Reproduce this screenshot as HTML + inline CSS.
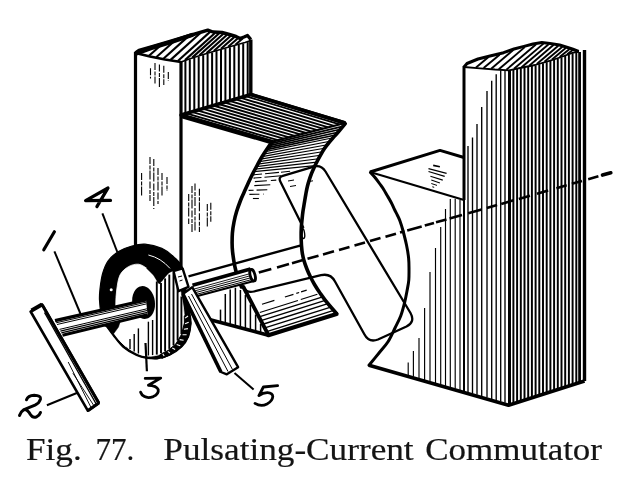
<!DOCTYPE html>
<html><head><meta charset="utf-8"><title>Fig. 77</title>
<style>
html,body{margin:0;padding:0;background:#fff;}
body{width:629px;height:479px;overflow:hidden;position:relative;font-family:"Liberation Serif",serif;}
svg{position:absolute;left:0;top:0;will-change:transform;}
.w{position:absolute;top:431.5px;font-size:31px;line-height:36px;color:#141414;white-space:pre;transform-origin:0 0;display:inline-block;-webkit-text-stroke:0.25px #141414;}
</style></head><body>
<svg width="629" height="479" viewBox="0 0 629 479" stroke="#000" fill="none">
<line x1="135.5" y1="52.0" x2="135.5" y2="247.0" stroke-width="3.2" />
<line x1="181.0" y1="62.0" x2="181.0" y2="268.0" stroke-width="3.2" />
<path d="M135.5,53.0 L139.0,50.5 L153.0,46.5 L170.0,41.5 L190.0,35.5 L207.8,30.2 L213.0,32.0 L222.0,32.5 L229.4,34.5 L236.0,36.5 L240.0,38.5 L244.0,37.0 L247.5,35.5 L250.8,39.5" stroke-width="3.4" fill="none" stroke-linejoin="round"/>
<path d="M136.2,53.3 L150.7,48.2 L171.3,42.0 L192.0,35.0" stroke-width="4.4" fill="none" stroke-linejoin="round" stroke-linecap="round"/>
<path d="M135.5,53.0 L150.0,56.5 L165.0,59.5 L181.0,62.0" stroke-width="2.6" fill="none" stroke-linejoin="round"/>
<path d="M181.0,62.0 L190.0,58.8 L200.0,55.6 L210.0,52.6 L222.0,49.0 L235.0,45.3 L245.0,42.5 L250.8,40.5" stroke-width="1.6" fill="none" stroke-linejoin="round"/>
<line x1="149.0" y1="55.8" x2="161.5" y2="44.8" stroke-width="2.1" />
<line x1="156.2" y1="57.2" x2="174.2" y2="41.2" stroke-width="2.1" />
<line x1="163.4" y1="58.7" x2="187.4" y2="37.1" stroke-width="2.1" />
<line x1="170.6" y1="59.9" x2="200.1" y2="33.2" stroke-width="2.1" />
<line x1="177.8" y1="61.0" x2="210.3" y2="31.6" stroke-width="2.1" />
<line x1="185.0" y1="60.1" x2="215.0" y2="33.0" stroke-width="2.1" />
<line x1="192.2" y1="57.6" x2="219.2" y2="33.3" stroke-width="2.1" />
<line x1="199.4" y1="55.3" x2="223.4" y2="33.7" stroke-width="2.1" />
<line x1="206.6" y1="53.1" x2="227.1" y2="34.8" stroke-width="2.1" />
<line x1="213.8" y1="51.0" x2="230.8" y2="35.8" stroke-width="2.1" />
<line x1="221.0" y1="48.8" x2="234.5" y2="36.9" stroke-width="2.1" />
<line x1="228.2" y1="46.7" x2="238.2" y2="38.0" stroke-width="2.1" />
<line x1="235.4" y1="44.7" x2="242.9" y2="38.3" stroke-width="2.1" />
<line x1="250.8" y1="39.5" x2="250.8" y2="95.0" stroke-width="3.4" />
<line x1="185.4" y1="60.9" x2="185.4" y2="113.7" stroke-width="2.0" />
<line x1="189.8" y1="59.4" x2="189.8" y2="112.4" stroke-width="2.0" />
<line x1="194.3" y1="57.9" x2="194.3" y2="111.1" stroke-width="2.0" />
<line x1="198.7" y1="56.5" x2="198.7" y2="109.8" stroke-width="2.0" />
<line x1="203.2" y1="55.1" x2="203.2" y2="108.5" stroke-width="2.0" />
<line x1="207.6" y1="53.8" x2="207.6" y2="107.2" stroke-width="2.0" />
<line x1="212.1" y1="52.5" x2="212.1" y2="105.9" stroke-width="2.0" />
<line x1="216.5" y1="51.1" x2="216.5" y2="104.6" stroke-width="2.0" />
<line x1="221.0" y1="49.8" x2="221.0" y2="103.3" stroke-width="2.0" />
<line x1="225.4" y1="48.5" x2="225.4" y2="102.0" stroke-width="2.0" />
<line x1="229.9" y1="47.3" x2="229.9" y2="100.7" stroke-width="2.0" />
<line x1="234.3" y1="46.0" x2="234.3" y2="99.4" stroke-width="2.0" />
<line x1="238.8" y1="44.7" x2="238.8" y2="98.1" stroke-width="2.0" />
<line x1="243.2" y1="43.5" x2="243.2" y2="96.8" stroke-width="2.0" />
<line x1="247.7" y1="42.1" x2="247.7" y2="95.5" stroke-width="2.0" />
<line x1="186.4" y1="113.4" x2="277.9" y2="140.2" stroke-width="1.9" />
<line x1="191.8" y1="111.8" x2="283.5" y2="138.7" stroke-width="1.9" />
<line x1="197.2" y1="110.3" x2="289.1" y2="137.3" stroke-width="1.9" />
<line x1="202.5" y1="108.7" x2="294.7" y2="135.9" stroke-width="1.9" />
<line x1="207.9" y1="107.1" x2="300.3" y2="134.4" stroke-width="1.9" />
<line x1="213.3" y1="105.5" x2="305.9" y2="133.0" stroke-width="1.9" />
<line x1="218.7" y1="104.0" x2="311.6" y2="131.6" stroke-width="1.9" />
<line x1="224.1" y1="102.4" x2="317.2" y2="130.2" stroke-width="1.9" />
<line x1="229.5" y1="100.8" x2="322.8" y2="128.7" stroke-width="1.9" />
<line x1="234.8" y1="99.2" x2="328.4" y2="127.3" stroke-width="1.9" />
<line x1="240.2" y1="97.7" x2="334.0" y2="125.9" stroke-width="1.9" />
<line x1="245.6" y1="96.1" x2="339.6" y2="124.4" stroke-width="1.9" />
<path d="M272.3,141.6 L181.0,115.0 L251.0,94.5 L345.2,123.0" stroke-width="3.4" fill="none" stroke-linejoin="round"/>
<line x1="181.0" y1="115.8" x2="272.3" y2="142.4" stroke-width="4.4" />
<line x1="272.3" y1="141.6" x2="345.2" y2="123.0" stroke-width="2.2" />
<line x1="251.0" y1="94.5" x2="345.2" y2="123.0" stroke-width="3.6" />
<path d="M272.3,141.6 C271.4,142.8 268.7,146.5 267.0,149.0 C265.3,151.5 263.7,154.0 262.0,156.8 C260.3,159.6 258.5,162.9 256.8,166.0 C255.1,169.1 253.3,172.4 251.8,175.5 C250.3,178.6 248.9,181.7 247.6,184.5 C246.3,187.3 245.2,189.8 244.0,192.5 C242.8,195.2 241.5,197.8 240.3,201.0 C239.1,204.2 237.7,208.0 236.6,211.5 C235.5,215.0 234.7,218.4 234.0,222.0 C233.3,225.6 232.7,229.5 232.4,233.0 C232.1,236.5 232.1,239.8 232.1,243.0 C232.1,246.2 232.3,249.2 232.6,252.0 C232.9,254.8 233.3,257.3 233.7,260.0 C234.1,262.7 234.5,265.2 235.2,268.0 C235.8,270.8 236.5,273.8 237.6,277.0 C238.7,280.2 240.8,285.3 241.5,287.0" stroke-width="3.6" fill="none" stroke-linecap="round"/>
<path d="M345.2,123.6 C344.4,124.6 342.0,127.5 340.3,129.5 C338.6,131.6 336.6,133.8 334.8,135.9 C333.0,138.0 331.1,139.9 329.4,142.0 C327.7,144.1 326.1,146.1 324.5,148.4 C322.9,150.7 321.4,153.6 320.0,156.0 C318.6,158.4 317.5,160.7 316.3,163.0 C315.1,165.3 314.1,167.6 313.0,170.0 C311.9,172.4 310.9,174.9 310.0,177.6 C309.1,180.3 308.2,183.2 307.5,186.0 C306.8,188.8 306.4,191.1 305.8,194.3 C305.2,197.5 304.6,201.6 304.0,205.0 C303.4,208.4 302.9,211.2 302.5,215.0 C302.1,218.8 301.5,223.8 301.3,228.0 C301.1,232.2 301.1,236.2 301.2,240.0 C301.3,243.8 301.6,247.7 302.0,251.0 C302.4,254.3 303.0,257.0 303.8,260.0 C304.6,263.0 305.8,266.2 306.9,269.0 C308.0,271.8 309.2,274.4 310.5,277.0 C311.8,279.6 312.9,281.8 314.5,284.5 C316.1,287.2 317.9,290.0 320.0,293.0 C322.1,296.0 324.2,299.1 327.0,302.5 C329.8,305.9 334.9,311.7 336.5,313.5" stroke-width="3.6" fill="none" stroke-linecap="round"/>
<line x1="270.9" y1="143.6" x2="342.8" y2="126.4" stroke-width="1.6" />
<line x1="269.4" y1="145.6" x2="340.5" y2="129.3" stroke-width="1.6" />
<line x1="268.0" y1="147.6" x2="338.0" y2="132.2" stroke-width="1.6" />
<line x1="266.6" y1="149.6" x2="335.6" y2="135.0" stroke-width="1.6" />
<line x1="265.3" y1="151.6" x2="333.1" y2="137.8" stroke-width="1.15" />
<line x1="263.7" y1="154.1" x2="330.0" y2="141.3" stroke-width="1.15" />
<line x1="262.1" y1="156.6" x2="327.3" y2="144.8" stroke-width="1.15" />
<line x1="260.7" y1="159.1" x2="324.6" y2="148.3" stroke-width="1.15" />
<line x1="259.3" y1="161.6" x2="322.5" y2="151.7" stroke-width="1.15" />
<line x1="257.9" y1="164.1" x2="320.5" y2="155.2" stroke-width="1.15" />
<line x1="256.5" y1="166.6" x2="318.6" y2="158.7" stroke-width="1.15" />
<line x1="255.2" y1="169.1" x2="316.8" y2="162.1" stroke-width="1.15" />
<line x1="253.9" y1="171.6" x2="315.1" y2="165.6" stroke-width="1.15" />
<line x1="252.1" y1="175.0" x2="290.1" y2="171.3" stroke-width="1.1" stroke-dasharray="10 3 14 2 30 3"/>
<line x1="253.5" y1="178.1" x2="281.1" y2="175.8" stroke-width="1.1" stroke-dasharray="8 3 20 4"/>
<line x1="254.9" y1="181.6" x2="276.3" y2="180.1" stroke-width="1.1" stroke-dasharray="12 4 6 3"/>
<line x1="254.3" y1="185.6" x2="271.5" y2="184.7" stroke-width="1.1" stroke-dasharray="16 5 5 4"/>
<line x1="248.6" y1="190.4" x2="267.3" y2="189.7" stroke-width="1.1" stroke-dasharray="5 3 12 4"/>
<line x1="249.4" y1="194.4" x2="263.9" y2="194.1" stroke-width="1.1" stroke-dasharray="10 4"/>
<line x1="252.9" y1="198.5" x2="260.5" y2="198.5" stroke-width="1.1" stroke-dasharray="6 3"/>
<line x1="309.0" y1="181.5" x2="313.0" y2="180.8" stroke-width="1.0" />
<line x1="288.0" y1="181.0" x2="294.0" y2="180.0" stroke-width="1.0" />
<line x1="290.0" y1="186.5" x2="296.0" y2="185.5" stroke-width="1.0" />
<line x1="243.4" y1="287.0" x2="268.4" y2="335.0" stroke-width="3.8" stroke-linecap="round"/>
<line x1="268.4" y1="335.2" x2="336.5" y2="314.0" stroke-width="4.2" stroke-linecap="round"/>
<line x1="267.5" y1="331.3" x2="332.9" y2="310.6" stroke-width="1.4" />
<line x1="265.6" y1="327.7" x2="330.0" y2="307.3" stroke-width="1.4" />
<line x1="263.7" y1="324.0" x2="327.1" y2="303.9" stroke-width="1.4" />
<line x1="261.8" y1="320.4" x2="324.4" y2="300.6" stroke-width="1.4" />
<line x1="259.9" y1="316.7" x2="321.9" y2="297.1" stroke-width="1.4" />
<line x1="259.8" y1="312.5" x2="317.4" y2="294.3" stroke-width="1.2" stroke-dasharray="40 3 30 2"/>
<line x1="262.0" y1="304.3" x2="306.7" y2="290.1" stroke-width="1.2" stroke-dasharray="13 11 9 3 3 2 14 4"/>
<line x1="188.5" y1="276.3" x2="301.0" y2="245.3" stroke-width="2.4" />
<line x1="207.4" y1="319.0" x2="268.4" y2="335.3" stroke-width="3.6" />
<line x1="220.5" y1="309.6" x2="220.5" y2="321.5" stroke-width="1.5" />
<line x1="225.3" y1="294.0" x2="225.3" y2="322.8" stroke-width="1.5" />
<line x1="230.2" y1="289.5" x2="230.2" y2="324.1" stroke-width="1.5" />
<line x1="235.4" y1="287.7" x2="235.4" y2="325.5" stroke-width="1.5" />
<line x1="240.4" y1="290.0" x2="240.4" y2="326.8" stroke-width="1.5" />
<line x1="245.4" y1="295.0" x2="245.4" y2="328.2" stroke-width="1.5" />
<line x1="250.4" y1="304.5" x2="250.4" y2="329.5" stroke-width="1.5" />
<line x1="255.6" y1="314.5" x2="255.6" y2="330.9" stroke-width="1.5" />
<line x1="260.6" y1="324.0" x2="260.6" y2="332.2" stroke-width="1.5" />
<line x1="150.5" y1="68.3" x2="150.5" y2="78.5" stroke-width="1.1" stroke-dasharray="7 1.5 4 1 9 2"/>
<line x1="155.0" y1="63.0" x2="155.0" y2="83.6" stroke-width="1.1" stroke-dasharray="7 1.5 4 1 9 2"/>
<line x1="159.4" y1="64.5" x2="159.4" y2="87.4" stroke-width="1.1" stroke-dasharray="7 1.5 4 1 9 2"/>
<line x1="163.8" y1="65.8" x2="163.8" y2="85.0" stroke-width="1.1" stroke-dasharray="7 1.5 4 1 9 2"/>
<line x1="168.3" y1="72.0" x2="168.3" y2="81.0" stroke-width="1.1" stroke-dasharray="7 1.5 4 1 9 2"/>
<line x1="141.6" y1="173.0" x2="141.6" y2="196.0" stroke-width="1.1" stroke-dasharray="7 1.5 4 1 9 2"/>
<line x1="150.0" y1="157.0" x2="150.0" y2="201.0" stroke-width="1.1" stroke-dasharray="7 1.5 4 1 9 2"/>
<line x1="153.8" y1="159.0" x2="153.8" y2="209.0" stroke-width="1.1" stroke-dasharray="7 1.5 4 1 9 2"/>
<line x1="158.0" y1="168.0" x2="158.0" y2="204.0" stroke-width="1.1" stroke-dasharray="7 1.5 4 1 9 2"/>
<line x1="162.0" y1="173.0" x2="162.0" y2="196.0" stroke-width="1.1" stroke-dasharray="7 1.5 4 1 9 2"/>
<line x1="167.0" y1="177.0" x2="167.0" y2="191.0" stroke-width="1.1" stroke-dasharray="7 1.5 4 1 9 2"/>
<line x1="188.7" y1="194.0" x2="188.7" y2="224.0" stroke-width="1.1" stroke-dasharray="7 1.5 4 1 9 2"/>
<line x1="192.0" y1="186.0" x2="192.0" y2="232.0" stroke-width="1.1" stroke-dasharray="7 1.5 4 1 9 2"/>
<line x1="195.0" y1="183.6" x2="195.0" y2="232.0" stroke-width="1.1" stroke-dasharray="7 1.5 4 1 9 2"/>
<line x1="199.4" y1="188.7" x2="199.4" y2="232.0" stroke-width="1.1" stroke-dasharray="7 1.5 4 1 9 2"/>
<line x1="207.3" y1="204.0" x2="207.3" y2="227.0" stroke-width="1.1" stroke-dasharray="7 1.5 4 1 9 2"/>
<line x1="210.8" y1="202.7" x2="210.8" y2="221.8" stroke-width="1.1" stroke-dasharray="7 1.5 4 1 9 2"/>
<line x1="513.4" y1="69.9" x2="513.4" y2="403.8" stroke-width="1.95" />
<line x1="517.1" y1="69.1" x2="517.1" y2="402.6" stroke-width="1.95" />
<line x1="520.8" y1="68.3" x2="520.8" y2="401.4" stroke-width="1.95" />
<line x1="524.5" y1="67.6" x2="524.5" y2="400.2" stroke-width="1.95" />
<line x1="528.2" y1="66.9" x2="528.2" y2="399.0" stroke-width="1.95" />
<line x1="531.9" y1="66.1" x2="531.9" y2="397.8" stroke-width="1.95" />
<line x1="535.6" y1="65.3" x2="535.6" y2="396.6" stroke-width="1.95" />
<line x1="539.3" y1="64.3" x2="539.3" y2="395.5" stroke-width="1.95" />
<line x1="543.0" y1="63.2" x2="543.0" y2="394.3" stroke-width="1.95" />
<line x1="546.7" y1="62.2" x2="546.7" y2="393.1" stroke-width="1.95" />
<line x1="550.4" y1="61.0" x2="550.4" y2="391.9" stroke-width="1.95" />
<line x1="554.1" y1="59.9" x2="554.1" y2="390.7" stroke-width="1.95" />
<line x1="557.8" y1="58.7" x2="557.8" y2="389.5" stroke-width="1.95" />
<line x1="561.5" y1="57.4" x2="561.5" y2="388.4" stroke-width="1.95" />
<line x1="565.2" y1="56.1" x2="565.2" y2="387.2" stroke-width="1.95" />
<line x1="568.9" y1="54.7" x2="568.9" y2="386.0" stroke-width="1.95" />
<line x1="572.6" y1="53.3" x2="572.6" y2="384.8" stroke-width="1.95" />
<line x1="576.3" y1="52.6" x2="576.3" y2="383.6" stroke-width="1.95" />
<line x1="580.0" y1="52.0" x2="580.0" y2="382.4" stroke-width="1.95" />
<line x1="408.2" y1="362.6" x2="408.2" y2="375.4" stroke-width="1.15" />
<line x1="413.4" y1="351.1" x2="413.4" y2="376.8" stroke-width="1.15" />
<line x1="419.0" y1="338.0" x2="419.0" y2="378.4" stroke-width="1.15" />
<line x1="424.6" y1="308.1" x2="424.6" y2="380.0" stroke-width="1.15" />
<line x1="430.0" y1="272.0" x2="430.0" y2="381.5" stroke-width="1.15" />
<line x1="435.5" y1="248.0" x2="435.5" y2="383.1" stroke-width="1.15" />
<line x1="440.7" y1="227.0" x2="440.7" y2="384.6" stroke-width="1.15" />
<line x1="445.5" y1="209.0" x2="445.5" y2="385.9" stroke-width="1.15" />
<line x1="450.3" y1="199.0" x2="450.3" y2="387.3" stroke-width="1.15" />
<line x1="455.2" y1="198.7" x2="455.2" y2="388.7" stroke-width="1.15" />
<line x1="460.0" y1="200.1" x2="460.0" y2="390.0" stroke-width="1.15" />
<line x1="468.0" y1="146.0" x2="468.0" y2="392.3" stroke-width="1.35" />
<line x1="472.5" y1="137.5" x2="472.5" y2="393.5" stroke-width="1.35" />
<line x1="477.0" y1="124.0" x2="477.0" y2="394.8" stroke-width="1.35" />
<line x1="481.7" y1="107.1" x2="481.7" y2="396.1" stroke-width="1.35" />
<line x1="487.0" y1="91.0" x2="487.0" y2="397.6" stroke-width="1.35" />
<line x1="491.7" y1="80.8" x2="491.7" y2="399.0" stroke-width="1.35" />
<line x1="496.2" y1="74.3" x2="496.2" y2="400.2" stroke-width="1.35" />
<line x1="500.7" y1="70.3" x2="500.7" y2="401.5" stroke-width="1.35" />
<line x1="505.0" y1="70.6" x2="505.0" y2="402.7" stroke-width="1.35" />
<path d="M464.0,67.0 L467.0,63.5 L478.0,59.0 L490.0,56.0 L503.6,52.7 L514.0,49.0 L524.0,46.4 L533.0,44.0 L541.8,42.5 L550.0,43.5 L559.6,45.0 L566.0,47.0 L572.3,49.0 L578.7,51.5" stroke-width="3.0" fill="none" stroke-linejoin="round"/>
<path d="M464.0,67.0 L480.0,68.3 L495.0,69.5 L509.0,70.3 L520.0,68.0 L535.0,65.0 L547.0,61.6 L560.0,57.5 L572.3,52.9 L579.0,51.5" stroke-width="1.8" fill="none" stroke-linejoin="round"/>
<line x1="476.0" y1="67.5" x2="488.5" y2="57.1" stroke-width="1.9" />
<line x1="483.6" y1="68.1" x2="499.6" y2="54.7" stroke-width="1.9" />
<line x1="491.2" y1="68.7" x2="513.2" y2="50.1" stroke-width="1.9" />
<line x1="498.8" y1="69.2" x2="524.8" y2="47.1" stroke-width="1.9" />
<line x1="506.4" y1="69.7" x2="535.9" y2="44.5" stroke-width="1.9" />
<line x1="514.0" y1="68.8" x2="543.5" y2="43.6" stroke-width="1.9" />
<line x1="521.6" y1="67.2" x2="548.6" y2="44.2" stroke-width="1.9" />
<line x1="529.2" y1="65.7" x2="553.7" y2="44.8" stroke-width="1.9" />
<line x1="536.8" y1="64.0" x2="558.3" y2="45.8" stroke-width="1.9" />
<line x1="544.4" y1="61.8" x2="562.4" y2="46.7" stroke-width="1.9" />
<line x1="552.0" y1="59.5" x2="566.0" y2="47.8" stroke-width="1.9" />
<line x1="559.6" y1="57.1" x2="569.6" y2="48.9" stroke-width="1.9" />
<line x1="567.2" y1="54.3" x2="572.7" y2="50.0" stroke-width="1.9" />
<line x1="464.0" y1="66.0" x2="464.0" y2="200.0" stroke-width="3.0" />
<line x1="464.0" y1="200.0" x2="464.0" y2="391.5" stroke-width="2.0" />
<line x1="509.5" y1="70.0" x2="509.5" y2="405.0" stroke-width="3.0" />
<line x1="584.5" y1="50.0" x2="584.5" y2="381.0" stroke-width="3.4" />
<line x1="579.2" y1="52.0" x2="579.2" y2="382.0" stroke-width="2.0" />
<path d="M369.0,365.3 L508.5,405.3 L584.5,381.0" stroke-width="3.6" fill="none" stroke-linejoin="round"/>
<path d="M370.0,172.0 L440.0,150.4 L464.0,157.5" stroke-width="3.0" fill="none" stroke-linejoin="round"/>
<line x1="370.0" y1="172.0" x2="464.0" y2="200.0" stroke-width="2.2" />
<line x1="433.2" y1="165.4" x2="439.9" y2="166.7" stroke-width="1.6" />
<line x1="428.5" y1="168.6" x2="446.6" y2="173.4" stroke-width="1.2" />
<line x1="428.5" y1="171.5" x2="444.7" y2="176.3" stroke-width="1.2" />
<line x1="430.4" y1="176.3" x2="442.8" y2="180.1" stroke-width="1.1" />
<line x1="431.3" y1="180.1" x2="439.9" y2="183.0" stroke-width="1.1" />
<line x1="431.3" y1="183.5" x2="437.0" y2="185.4" stroke-width="1.0" />
<line x1="432.3" y1="186.8" x2="434.2" y2="187.3" stroke-width="1.0" />
<path d="M370.5,172.5 C371.2,173.3 373.5,175.7 375.0,177.5 C376.5,179.3 378.1,181.5 379.5,183.5 C380.9,185.5 382.4,187.4 383.7,189.5 C385.0,191.6 386.2,193.8 387.5,196.0 C388.8,198.2 390.0,200.2 391.2,202.5 C392.4,204.8 393.5,207.4 394.5,209.5 C395.5,211.6 396.4,213.2 397.3,215.0 C398.2,216.8 398.9,218.0 399.8,220.5 C400.7,223.0 401.7,225.9 402.8,230.0 C403.9,234.1 405.5,240.3 406.5,245.0 C407.5,249.7 408.2,254.2 408.6,258.0 C409.0,261.8 409.0,264.3 409.0,268.0 C409.0,271.7 409.1,276.2 408.8,280.0 C408.5,283.8 407.7,287.2 407.0,291.0 C406.3,294.8 405.6,298.8 404.5,303.0 C403.4,307.2 402.3,311.8 400.7,316.0 C399.1,320.2 397.1,323.7 395.0,328.0 C392.9,332.3 390.7,337.6 388.0,341.8 C385.3,346.0 382.2,349.1 379.0,353.0 C375.8,356.9 370.7,363.2 369.0,365.3" stroke-width="3.0" fill="none" stroke-linecap="round"/>
<path d="M303.5,228 L280.3,181.5 Q278.2,177.2 282.8,175.9 L313,166.8 Q321,164.3 325.5,171.5 L410.5,313 Q415.5,322 406.5,326.5 L378,339.5 Q369,343 364.5,334.5 L335,281.5 Q330.5,273 321,275.2 L254,291.5 Q246.5,293.2 243.6,287.5" stroke-width="2.3" fill="none" stroke-linejoin="round"/>
<line x1="258.8" y1="272.6" x2="271.3" y2="269.1" stroke-width="2.6" />
<line x1="277.0" y1="267.4" x2="289.0" y2="264.0" stroke-width="2.6" />
<line x1="292.0" y1="263.2" x2="303.0" y2="260.1" stroke-width="2.6" />
<line x1="307.5" y1="258.8" x2="318.5" y2="255.7" stroke-width="2.6" />
<line x1="323.0" y1="254.4" x2="334.0" y2="251.3" stroke-width="2.6" />
<line x1="339.0" y1="249.9" x2="349.5" y2="246.9" stroke-width="2.6" />
<line x1="354.5" y1="245.5" x2="365.0" y2="242.5" stroke-width="2.6" />
<line x1="370.0" y1="241.1" x2="380.5" y2="238.1" stroke-width="2.6" />
<line x1="385.5" y1="236.7" x2="396.0" y2="233.7" stroke-width="2.6" />
<line x1="400.0" y1="232.6" x2="404.5" y2="231.3" stroke-width="2.6" />
<line x1="407.2" y1="230.5" x2="421.7" y2="226.4" stroke-width="2.6" />
<line x1="424.8" y1="225.5" x2="434.0" y2="222.9" stroke-width="2.6" />
<line x1="436.0" y1="222.3" x2="446.5" y2="219.4" stroke-width="2.6" />
<line x1="449.6" y1="218.5" x2="462.0" y2="215.0" stroke-width="2.6" />
<line x1="468.2" y1="213.2" x2="481.6" y2="209.4" stroke-width="2.6" />
<line x1="486.8" y1="207.9" x2="497.1" y2="205.0" stroke-width="2.6" />
<line x1="501.2" y1="203.9" x2="513.6" y2="200.3" stroke-width="2.6" />
<line x1="518.8" y1="198.9" x2="530.0" y2="195.7" stroke-width="2.6" />
<line x1="537.0" y1="193.7" x2="548.2" y2="190.5" stroke-width="2.6" />
<line x1="556.4" y1="188.2" x2="566.7" y2="185.3" stroke-width="2.6" />
<line x1="571.8" y1="183.8" x2="582.0" y2="180.9" stroke-width="2.6" />
<line x1="588.2" y1="179.2" x2="598.4" y2="176.3" stroke-width="2.6" />
<line x1="602.5" y1="175.1" x2="610.8" y2="172.8" stroke-width="3.6" stroke-linecap="round"/>
<ellipse cx="302.8" cy="233.5" rx="1.8" ry="5" stroke-width="1.4" transform="rotate(-8 302.8 233.5)"/>
<path d="M145.0,244.2 C140.0,243.8 136.4,244.8 132.0,246.0 C127.6,247.2 122.5,249.0 118.5,251.5 C114.5,254.0 110.7,257.2 108.0,261.0 C105.3,264.8 103.8,269.3 102.5,274.0 C101.2,278.7 100.5,284.7 100.0,289.0 C99.5,293.3 99.3,296.0 99.5,300.0 C99.7,304.0 100.2,309.3 101.0,313.0 C101.8,316.7 103.5,319.8 104.5,322.0 C105.5,324.2 105.2,323.8 106.7,326.0 C108.2,328.2 110.6,331.5 113.4,335.0 C116.2,338.5 119.5,343.5 123.4,346.8 C127.3,350.1 132.8,353.1 136.7,355.0 C140.6,356.9 143.2,357.4 146.8,358.0 C150.4,358.6 154.1,359.1 158.0,358.6 C161.9,358.1 166.0,357.0 170.0,355.0 C174.0,353.0 178.7,349.9 181.8,346.8 C184.9,343.8 187.0,340.6 188.5,336.7 C190.0,332.8 190.8,327.7 191.0,323.4 C191.2,319.1 190.2,315.4 189.5,311.0 C188.8,306.6 188.2,304.2 187.0,297.0 C185.8,289.8 184.8,274.7 182.5,268.0 C180.2,261.3 176.9,260.0 173.5,256.7 C170.1,253.4 166.6,250.5 161.8,248.4 C157.1,246.3 150.0,244.6 145.0,244.2 Z" stroke-width="1.2" fill="#000" />
<path d="M116.7,290.0 C117.4,285.2 118.0,278.9 120.0,275.0 C122.0,271.1 125.3,268.5 128.4,266.7 C131.5,264.9 135.3,263.9 138.4,264.2 C141.5,264.5 144.3,266.6 146.8,268.4 C149.3,270.2 151.3,272.5 153.4,275.0 C155.5,277.5 156.8,283.7 159.3,283.4 C161.8,283.1 166.1,275.5 168.5,273.4 C170.9,271.3 171.9,270.9 173.5,271.0 C175.1,271.1 176.8,270.7 178.0,274.0 C179.2,277.3 179.7,285.8 180.5,291.0 C181.3,296.2 182.4,300.8 183.0,305.0 C183.6,309.2 184.1,313.0 184.3,316.0 C184.5,319.0 184.9,319.9 184.4,323.0 C183.9,326.1 182.9,331.0 181.5,334.5 C180.1,338.0 178.1,341.3 175.8,344.0 C173.6,346.7 171.0,348.7 168.0,350.5 C165.0,352.3 161.5,354.1 158.0,355.0 C154.5,355.9 150.4,356.4 146.8,356.2 C143.2,355.9 140.4,355.3 136.7,353.5 C133.0,351.7 128.4,348.7 124.8,345.6 C121.2,342.5 116.3,337.6 115.0,334.8 C113.7,332.0 116.2,331.0 117.0,329.0 C117.8,327.0 120.1,325.3 120.0,323.0 C119.9,320.7 117.2,318.2 116.5,315.0 C115.8,311.8 115.8,308.2 115.8,304.0 C115.8,299.8 116.0,294.8 116.7,290.0 Z" stroke-width="0.8" fill="#fff" stroke="#fff"/>
<path d="M126.0,347.0 L114.2,335.2 L110.0,329.5 L113.0,326.5 L120.0,323.5 L122.0,330.0 L130.0,340.0 Z" stroke-width="0" fill="#fff" stroke="none"/>
<path d="M101.0,324.5 L120.5,320.5 L118.5,327.0 L113.6,333.8 L106.7,327.0 Z" stroke-width="0.5" fill="#000" />
<path d="M104.5,322.0 C104.9,322.7 105.2,323.8 106.7,326.0 C108.2,328.2 110.6,331.5 113.4,335.0 C116.2,338.5 119.5,343.5 123.4,346.8 C127.3,350.1 132.8,353.2 136.7,355.0 C140.6,356.8 143.2,357.3 146.8,357.8 C150.4,358.3 156.1,358.1 158.0,358.2" stroke-width="2.2" fill="none" />
<path d="M146.8,268.4 L153.4,275.0 L159.3,284.0 L164.0,278.0 L168.5,273.0 L173.5,270.5 L170.0,262.0 L155.0,258.0 Z" stroke-width="0.5" fill="#000" />
<path d="M148.4,255 Q161,258 170,268.4" stroke-width="1.0" fill="none" stroke="#fff"/>
<path d="M189,311.5 L191,323.4 L188.5,336.7 L181.8,346.8 L170,355 L161.8,358.4 L160,354.5 L168,350.5 L175.8,344 L181.5,334.5 L184.4,323 L184.3,316 Z" stroke-width="1.0" fill="#000" />
<line x1="185.1" y1="318.1" x2="188.0" y2="316.0" stroke-width="1.1" stroke="#fff"/>
<line x1="185.1" y1="323.7" x2="188.7" y2="322.3" stroke-width="1.1" stroke="#fff"/>
<line x1="183.9" y1="329.2" x2="187.9" y2="328.6" stroke-width="1.1" stroke="#fff"/>
<line x1="182.5" y1="334.7" x2="186.6" y2="334.8" stroke-width="1.1" stroke="#fff"/>
<line x1="179.7" y1="339.6" x2="183.6" y2="340.3" stroke-width="1.1" stroke="#fff"/>
<line x1="176.7" y1="344.4" x2="180.2" y2="345.7" stroke-width="1.1" stroke="#fff"/>
<line x1="172.3" y1="347.9" x2="175.1" y2="349.5" stroke-width="1.1" stroke="#fff"/>
<line x1="167.9" y1="351.4" x2="169.9" y2="353.2" stroke-width="1.1" stroke="#fff"/>
<line x1="162.8" y1="353.9" x2="164.2" y2="356.0" stroke-width="1.1" stroke="#fff"/>
<line x1="156.8" y1="281.5" x2="156.8" y2="354.6" stroke-width="1.9" />
<line x1="161.0" y1="283.0" x2="161.0" y2="353.1" stroke-width="1.9" />
<line x1="165.1" y1="278.4" x2="165.1" y2="351.3" stroke-width="1.9" />
<line x1="169.3" y1="274.6" x2="169.3" y2="348.9" stroke-width="1.9" />
<line x1="173.5" y1="272.5" x2="173.5" y2="345.4" stroke-width="1.9" />
<line x1="177.6" y1="275.2" x2="177.6" y2="340.5" stroke-width="1.9" />
<line x1="181.4" y1="296.5" x2="181.4" y2="334.2" stroke-width="1.9" />
<line x1="130.0" y1="339.0" x2="130.0" y2="349.1" stroke-width="1.4" />
<line x1="134.2" y1="334.0" x2="134.2" y2="351.5" stroke-width="1.4" />
<line x1="138.4" y1="328.4" x2="138.4" y2="353.5" stroke-width="1.4" />
<line x1="148.4" y1="321.7" x2="148.4" y2="355.5" stroke-width="1.4" />
<line x1="152.6" y1="320.0" x2="152.6" y2="355.1" stroke-width="1.4" />
<ellipse cx="143.6" cy="302.5" rx="11.3" ry="16.5" fill="#000" stroke="none" transform="rotate(-8 143.6 302.5)"/>
<circle cx="111.2" cy="289.8" r="1.5" fill="#fff" stroke="none"/>
<path d="M55.0,320.6 L146.0,300.0 L147.5,314.6 L62.5,335.2 Z" stroke-width="0" fill="#fff" stroke="none"/>
<line x1="56.1" y1="322.8" x2="146.2" y2="302.2" stroke-width="1.0" />
<line x1="57.0" y1="324.5" x2="146.4" y2="303.9" stroke-width="1.0" />
<line x1="59.5" y1="329.4" x2="146.9" y2="308.8" stroke-width="1.0" />
<line x1="60.4" y1="331.1" x2="147.1" y2="310.5" stroke-width="1.2" />
<line x1="61.3" y1="332.9" x2="147.3" y2="312.3" stroke-width="1.2" />
<line x1="55.0" y1="320.6" x2="146.0" y2="300.0" stroke-width="3.2" />
<line x1="62.5" y1="335.2" x2="147.5" y2="314.6" stroke-width="3.0" />
<path d="M192.5,285.2 L250.5,269.0 L254.0,281.0 L197.5,296.0 Z" stroke-width="0" fill="#fff" stroke="none"/>
<line x1="194.2" y1="289.0" x2="251.7" y2="273.2" stroke-width="0.9" />
<line x1="195.1" y1="290.8" x2="252.3" y2="275.2" stroke-width="0.9" />
<line x1="195.9" y1="292.5" x2="252.9" y2="277.2" stroke-width="1.0" />
<line x1="196.7" y1="294.3" x2="253.4" y2="279.1" stroke-width="1.0" />
<line x1="192.5" y1="285.2" x2="250.5" y2="269.0" stroke-width="3.6" />
<line x1="197.5" y1="296.0" x2="254.0" y2="281.0" stroke-width="2.0" />
<ellipse cx="252.6" cy="275.2" rx="2.4" ry="6.0" fill="#fff" stroke-width="2.8" transform="rotate(-15 252.6 275.2)"/>
<path d="M30.6,311.5 L42.0,304.4 L98.8,403.0 L87.8,410.7 Z" stroke-width="2.6" fill="#fff" stroke-linejoin="round"/>
<line x1="31.5" y1="310.5" x2="42.0" y2="304.6" stroke-width="4.0" />
<line x1="44.5" y1="312.5" x2="96.5" y2="404.5" stroke-width="1.4" />
<line x1="42.3" y1="305.0" x2="98.8" y2="403.0" stroke-width="3.0" />
<line x1="68.2" y1="362.0" x2="90.8" y2="407.0" stroke-width="0.9" />
<line x1="72.9" y1="373.2" x2="93.6" y2="405.2" stroke-width="0.9" />
<line x1="87.8" y1="410.7" x2="98.8" y2="403.0" stroke-width="3.2" />
<path d="M182.8,293.9 L192.2,287.2 L238.1,367.2 L226.8,374.3 L220.9,372.0 Z" stroke-width="2.4" fill="#fff" stroke-linejoin="round"/>
<line x1="182.8" y1="293.9" x2="220.9" y2="372.0" stroke-width="3.6" />
<line x1="188.5" y1="296.0" x2="228.0" y2="371.5" stroke-width="1.0" />
<line x1="191.5" y1="294.0" x2="232.5" y2="369.5" stroke-width="1.0" />
<path d="M173.5,271.0 L182.6,268.4 L188.5,286.8 L178.5,291.2 Z" stroke-width="2.4" fill="#fff" stroke-linejoin="round"/>
<line x1="178.0" y1="277.0" x2="182.0" y2="276.0" stroke-width="1.0" />
<line x1="179.5" y1="281.0" x2="182.5" y2="280.0" stroke-width="1.0" />
<line x1="54.4" y1="251.3" x2="81.4" y2="316.0" stroke-width="2.0" />
<line x1="102.4" y1="213.3" x2="117.3" y2="252.0" stroke-width="2.0" />
<line x1="46.9" y1="405.3" x2="77.4" y2="392.8" stroke-width="2.0" />
<line x1="145.5" y1="343.0" x2="146.9" y2="371.2" stroke-width="2.2" />
<line x1="234.5" y1="372.9" x2="253.6" y2="389.4" stroke-width="2.0" />
<path d="M54.4,231.8 L43.8,249.8" stroke-width="3.2" fill="none" stroke-linecap="round" stroke-linejoin="round"/>
<path d="M108,188 L85.6,200.6 L110.5,200.4 M107.6,188.6 L96.9,206.6" stroke-width="3.2" fill="none" stroke-linecap="round" stroke-linejoin="round"/>
<path d="M26.5,399.8 Q28,395.5 34.2,395.2 Q41,395.5 40.5,399 Q39.5,403 35,405.2 Q27,408.5 24,409.6 Q20.5,412 19.5,415.5 M24.5,409.6 Q28,410 30.4,414.5 Q33,418.5 36.5,416.8 Q39.5,415.5 40.5,412.5" stroke-width="3.0" fill="none" stroke-linecap="round" stroke-linejoin="round"/>
<path d="M145.2,378.4 L160.7,378.1 L148.4,385.3 Q156.5,385.5 158.2,389.5 Q159,394 153.3,396.6 Q148,398.5 144.5,396.6 Q141.5,395 140.6,392.2" stroke-width="2.8" fill="none" stroke-linecap="round" stroke-linejoin="round"/>
<path d="M277.6,385.6 L263.4,387 L258.9,395.6 Q263,392.5 267.5,392.6 Q272.5,393 272.8,396.5 Q272.5,401 267,404 Q261,407 255,403.4" stroke-width="2.8" fill="none" stroke-linecap="round" stroke-linejoin="round"/>
<text transform="translate(26.07,459.5) scale(1.1326,1)" font-family="Liberation Serif, serif" font-size="31" fill="#141414" stroke="#141414" stroke-width="0.2">Fig.</text>
<text transform="translate(95.6,459.5) scale(1.0,1)" font-family="Liberation Serif, serif" font-size="31" fill="#141414" stroke="#141414" stroke-width="0.2">77.</text>
<text transform="translate(163.36,459.5) scale(1.1361,1)" font-family="Liberation Serif, serif" font-size="31" fill="#141414" stroke="#141414" stroke-width="0.2">Pulsating-Current</text>
<text transform="translate(425.27,459.5) scale(1.1282,1)" font-family="Liberation Serif, serif" font-size="31" fill="#141414" stroke="#141414" stroke-width="0.2">Commutator</text>
</svg>
</body></html>
